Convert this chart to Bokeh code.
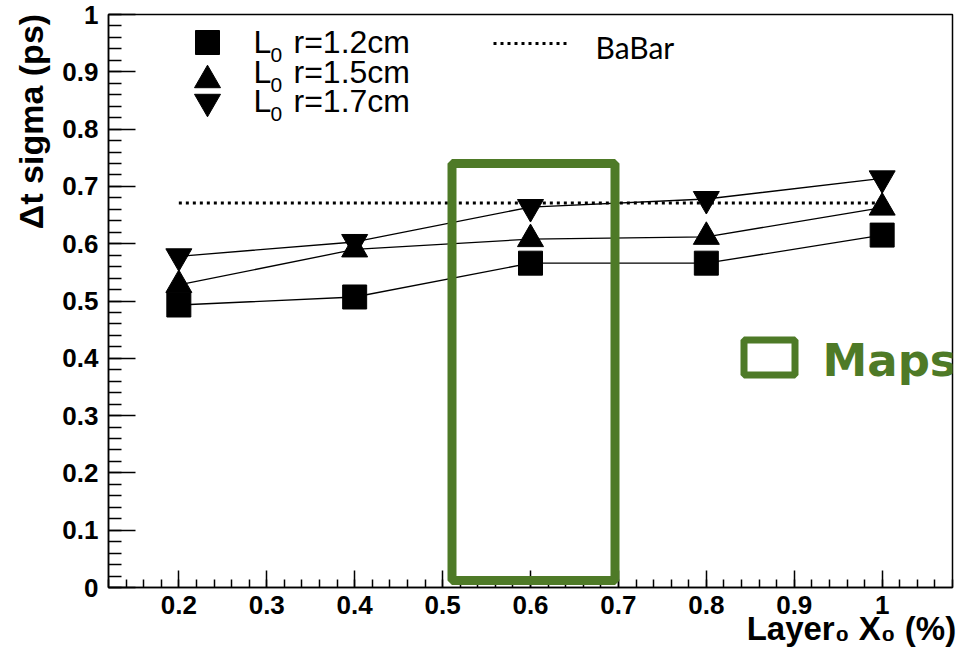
from bokeh.plotting import figure
from bokeh.models import (Range1d, FixedTicker, CustomJSTickFormatter, Label,
                          BoxAnnotation)
from bokeh.embed import file_html
from bokeh.resources import INLINE

# ---------------- data ----------------
x_layer = [0.2, 0.4, 0.6, 0.8, 1.0]
sigma_r12 = [0.493, 0.507, 0.566, 0.566, 0.615]   # squares, L0 r=1.2cm
sigma_r15 = [0.528, 0.590, 0.608, 0.612, 0.663]   # up triangles, L0 r=1.5cm
sigma_r17 = [0.578, 0.603, 0.664, 0.678, 0.714]   # down triangles, L0 r=1.7cm
babar_x = [0.2, 1.0]
babar_sigma = [0.671, 0.671]
series_names = ["r=1.2cm", "r=1.5cm", "r=1.7cm"]
y_ticks = [0.0, 0.1, 0.2, 0.3, 0.4, 0.5, 0.6, 0.7, 0.8, 0.9, 1.0]
x_ticks = [0.2, 0.3, 0.4, 0.5, 0.6, 0.7, 0.8, 0.9, 1.0]
y_title = "\u0394t sigma (ps)"
x_title = "Layer\u2080 X\u2080 (%)"

# ---------------- layout ----------------
W, H = 965, 656
FL, FR, FT, FB = 108, 952, 14, 587      # frame edges in canvas pixels
X0, X1, Y0, Y1 = 0.12, 1.08, 0.0, 1.0
NBSP = "\u00a0"


def dx(px):
    return X0 + (px - FL) / (FR - FL) * (X1 - X0)


def dy(py):
    return Y0 + (FB - py) / (FB - FT) * (Y1 - Y0)


def mid(baseline_px, font_px):
    # labels are centred vertically on their anchor
    return dy(baseline_px - 0.35 * font_px)


FONT = "Liberation Sans"
GREEN = "#4e7a27"

p = figure(width=W, height=H, x_range=Range1d(X0, X1), y_range=Range1d(Y0, Y1),
           output_backend="svg", toolbar_location=None,
           min_border_left=FL, min_border_right=W - FR,
           min_border_top=FT, min_border_bottom=H - FB)
p.grid.visible = False
p.outline_line_color = "black"
p.outline_line_width = 1.5
p.background_fill_color = "white"
p.border_fill_color = "white"

fmt = CustomJSTickFormatter(code="""
return (Math.abs(tick - Math.round(tick)) < 1e-9) ? tick.toFixed(0) : tick.toFixed(1);
""")

y_minor = [round(i * 0.02, 2) for i in range(0, 51)]
x_minor = [round(0.12 + i * 0.02, 2) for i in range(0, 49)]

p.yaxis.ticker = FixedTicker(ticks=y_ticks, minor_ticks=y_minor)
p.xaxis.ticker = FixedTicker(ticks=x_ticks, minor_ticks=x_minor)
for ax in (p.xaxis[0], p.yaxis[0]):
    ax.formatter = fmt
    ax.axis_line_color = "black"
    ax.axis_line_width = 1.5
    ax.major_tick_line_color = "black"
    ax.minor_tick_line_color = "black"
    ax.major_tick_line_width = 1.5
    ax.minor_tick_line_width = 1.5
    ax.major_tick_out = 0
    ax.minor_tick_out = 0
    ax.major_label_text_font = FONT
    ax.major_label_text_font_style = "bold"
    ax.major_label_text_font_size = "26px"
    ax.major_label_text_color = "black"
    ax.axis_label_text_font = FONT
    ax.axis_label_text_font_style = "bold"
    ax.axis_label_text_color = "black"
p.yaxis.major_tick_in = 27
p.yaxis.minor_tick_in = 13
p.yaxis.major_label_standoff = 10
p.xaxis.major_tick_in = 17
p.xaxis.minor_tick_in = 8
p.xaxis.major_label_standoff = 8

# titles are centred by Bokeh; leading no-break spaces push them to the
# far (top / right) end of each axis, as ROOT does
p.yaxis.axis_label = NBSP * 38 + y_title
p.yaxis.axis_label_text_font_size = "34px"
p.yaxis.axis_label_standoff = 9
p.xaxis.axis_label = NBSP * 70 + x_title
p.xaxis.axis_label_text_font_size = "33px"
p.xaxis.axis_label_standoff = -7

# ---------------- data glyphs ----------------
p.line(babar_x, babar_sigma, line_color="black", line_width=3,
       line_dash="3 4")
for ys in (sigma_r12, sigma_r15, sigma_r17):
    p.line(x_layer, ys, line_color="black", line_width=1.3)
p.scatter(x_layer, sigma_r12, marker="square", size=24, color="black")
p.scatter(x_layer, sigma_r15, marker="triangle", size=26, color="black")
p.scatter(x_layer, sigma_r17, marker="inverted_triangle", size=26, color="black")

# ---------------- green highlight ----------------
p.add_layout(BoxAnnotation(left=dx(451.5), right=dx(614.5), top=dy(163),
                           bottom=dy(580), fill_alpha=0, line_color=GREEN,
                           line_alpha=1.0, line_width=9))
p.add_layout(BoxAnnotation(left=dx(743.5), right=dx(794.5), top=dy(339.5),
                           bottom=dy(374.5), fill_alpha=0, line_color=GREEN,
                           line_alpha=1.0, line_width=7))
p.add_layout(Label(x=dx(822), y=mid(376, 45), text="Maps",
                   text_font="DejaVu Sans", text_font_style="bold",
                   text_font_size="45px", text_color=GREEN,
                   text_baseline="middle"))

# ---------------- legend ----------------
leg_marker_x = dx(207)
p.scatter([leg_marker_x], [dy(42)], marker="square", size=24, color="black")
p.scatter([leg_marker_x], [dy(79.7)], marker="triangle", size=26, color="black")
p.scatter([leg_marker_x], [dy(101.3)], marker="inverted_triangle", size=26,
          color="black")
for name, base in zip(series_names, (53, 83, 112)):
    p.add_layout(Label(x=dx(253), y=mid(base, 32), text="L", text_font=FONT,
                       text_font_size="32px", text_color="black",
                       text_baseline="middle"))
    p.add_layout(Label(x=dx(270), y=mid(base + 9, 21), text="0",
                       text_font=FONT, text_font_size="21px",
                       text_color="black", text_baseline="middle"))
    p.add_layout(Label(x=dx(293), y=mid(base, 32), text=name, text_font=FONT,
                       text_font_size="32px", text_color="black",
                       text_baseline="middle"))

p.line([dx(493), dx(567)], [dy(43), dy(43)], line_color="black", line_width=3,
       line_dash="3 4")
p.add_layout(Label(x=dx(595), y=mid(56.5, 30), text="BaBar", text_font="Lato",
                   text_font_size="30px", text_color="black",
                   text_baseline="middle"))

open("out.html", "w").write(file_html(p, INLINE))
